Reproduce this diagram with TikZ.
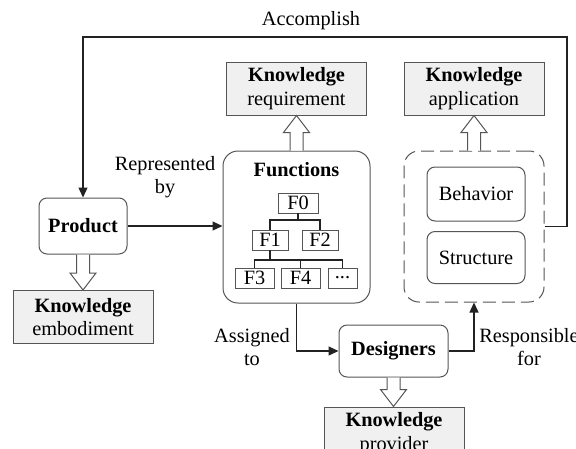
\documentclass[tikz,border=0pt]{standalone}
\usepackage{fontspec}
\setmainfont{Liberation Serif}
\usetikzlibrary{arrows.meta,calc}
\definecolor{kfill}{HTML}{F0F0F0}
\definecolor{bgray}{HTML}{555555}
\definecolor{lgray}{HTML}{222222}
\newcommand{\hollowarr}[2]{%
  \draw[hollowst] let \p1=(#1), \p2=(#2), \n1={ifthenelse(\y2>\y1,1,-1)} in
    (\x1-6.5pt,\y1) -- (\x1-6.5pt,\y2-\n1*17pt) -- (\x1-13pt,\y2-\n1*17pt) -- (\x1,\y2)
    -- (\x1+13pt,\y2-\n1*17pt) -- (\x1+6.5pt,\y2-\n1*17pt) -- (\x1+6.5pt,\y1);}
\begin{document}
\begin{tikzpicture}[x=1pt,y=-1pt,
  font=\fontsize{20.3}{23.5}\selectfont,
  kbox/.style={draw=bgray, fill=kfill, line width=1pt, minimum width=140pt, minimum height=53pt, inner sep=0pt, align=center},
  rbox/.style={draw=bgray, fill=white, rounded corners=8pt, line width=1pt, inner sep=0pt, align=center},
  fbox/.style={draw=bgray, line width=0.9pt, minimum height=20pt, inner sep=0pt},
  conn/.style={draw=lgray, line width=1.3pt},
  arr/.style={conn, -{Triangle[length=10pt,width=9pt]}},
  tree/.style={draw=lgray, line width=1.1pt},
  hollowst/.style={draw=bgray, fill=white, line width=1pt, line join=miter},
  lbl/.style={align=center, inner sep=0pt}]
\useasboundingbox (0,0) rectangle (576,448);
\clip (0,0) rectangle (576,448);

% knowledge boxes
\node[kbox] (kreq) at (296.5,88.5) {\textbf{Knowledge}\\requirement};
\node[kbox] (kapp) at (474,88.5) {\textbf{Knowledge}\\application};
\node[kbox] (kemb) at (83,317) {\textbf{Knowledge}\\embodiment};
\node[kbox] (kpro) at (394,433.5) {\textbf{Knowledge}\\provider};

% main boxes
\node[rbox, minimum width=88pt, minimum height=56pt] (prod) at (83,226) {\textbf{Product}};
\node[rbox, rounded corners=15pt, minimum width=147pt, minimum height=152pt] (func) at (296.5,227) {};
\node[lbl] (ftitle) at (296.5,170) {\textbf{Functions}};
\node[draw=bgray, line width=1pt, rounded corners=15pt, dash pattern=on 13pt off 6pt, minimum width=140pt, minimum height=151pt, inner sep=0pt] (dash) at (474,226.5) {};
\node[rbox, minimum width=98pt, minimum height=54pt] (beh) at (476,194) {Behavior};
\node[rbox, minimum width=98pt, minimum height=52pt] (str) at (476,257.5) {Structure};
\node[rbox, minimum width=109pt, minimum height=52pt] (des) at (393.5,351) {\textbf{Designers}};

% function tree
\node[fbox, minimum width=40pt] (f0) at (298,203) {F0};
\node[fbox, minimum width=36pt] (f1) at (270,240) {F1};
\node[fbox, minimum width=36pt] (f2) at (320,240) {F2};
\node[fbox, minimum width=39pt] (f3) at (254.5,278) {F3};
\node[fbox, minimum width=39pt] (f4) at (300.5,278) {F4};
\node[fbox, minimum width=29pt] (f5) at (342.5,278) {...};
\coordinate (h1) at (0,220);
\coordinate (h2) at (0,260);
\coordinate (t1) at (f0.south |- h1);
\coordinate (t2) at (f1.south |- h2);
\draw[tree] (f0.south) -- (t1);
\draw[tree] (f1.north) |- (t1) -| (f2.north);
\draw[tree] (f1.south) -- (t2);
\draw[tree] (f3.north) |- (t2) -| (f5.north);
\draw[tree] (f4.north) -- (f4.north |- t2);

% connectors
\coordinate (cTR) at (567,37);
\draw[arr] (dash.east) -| (cTR) -| (prod.north);
\draw[arr] (prod.east) -- (prod.east -| func.west);
\draw[arr] (func.south) |- (des.west);
\draw[arr] (des.east) -| (dash.south);

% hollow arrows
\hollowarr{func.north}{kreq.south}
\hollowarr{dash.north}{kapp.south}
\hollowarr{prod.south}{kemb.north}
\hollowarr{des.south}{kpro.north}

% labels
\node[lbl] (lacc) at (311,21) {Accomplish};
\node[lbl] (lrep) at (165,177) {Represented\\by};
\node[lbl] (lass) at (252,347) {Assigned\\to};
\node[lbl] (lres) at (529,347) {Responsible\\for};
\end{tikzpicture}
\end{document}
